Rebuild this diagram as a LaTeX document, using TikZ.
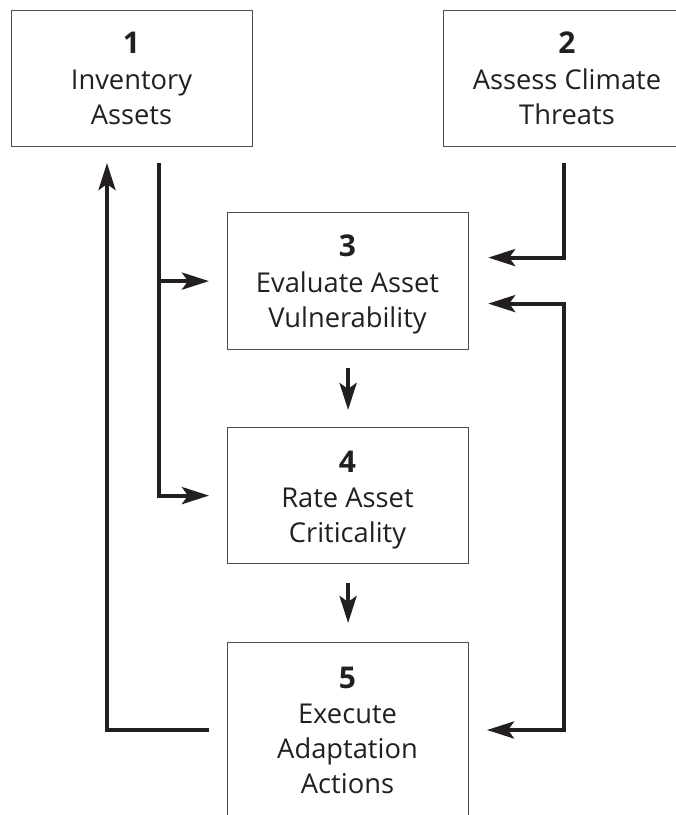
\documentclass[tikz,border=0pt]{standalone}
\usepackage{fontspec}
\setmainfont{Open Sans}
\usetikzlibrary{arrows.meta}
\definecolor{ink}{HTML}{231F20}
\newcommand{\boxlines}[1]{\fontsize{27.3}{35}\selectfont\begin{tabular}[t]{@{}c@{}}#1\end{tabular}}
\begin{document}
\begin{tikzpicture}[x=1pt,y=-1pt,
  box/.style={draw=ink!80, line width=1.2pt, minimum width=241pt, inner sep=0pt, anchor=north west},
  num/.style={font=\fontsize{30}{36}\selectfont\bfseries, text=ink, inner sep=0pt, anchor=base},
  lbl/.style={text=ink, inner sep=0pt, anchor=base},
  conn/.style={draw=ink, line width=4pt, -{Stealth[length=27pt,width=17pt,inset=6pt]}},
  conn2/.style={draw=ink, line width=4pt, {Stealth[length=27pt,width=17pt,inset=6pt]}-{Stealth[length=27pt,width=17pt,inset=6pt]}}]
\clip (0,0) rectangle (676,815);
% boxes
\node[box, minimum height=136pt] (b1) at (11,10) {};
\node[box, minimum height=136pt, minimum width=246pt] (b2) at (443,10) {};
\node[box, minimum height=137pt] (b3) at (227,212) {};
\node[box, minimum height=136pt] (b4) at (227,427) {};
\node[box, minimum height=200pt] (b5) at (227,642) {};
% numbers
\node[num] (n1) at (131.5,53.5) {1};
\node[num] (n2) at (567,53.5) {2};
\node[num] (n3) at (347.5,256) {3};
\node[num] (n4) at (347.5,472) {4};
\node[num] (n5) at (347.5,688) {5};
% texts
\node[lbl] (t1) at (131.5,89) {\boxlines{Inventory\\Assets}};
\node[lbl] (t2) at (567,89) {\boxlines{Assess Climate\\Threats}};
\node[lbl] (t3) at (347.5,292) {\boxlines{Evaluate Asset\\Vulnerability}};
\node[lbl] (t4) at (347.5,507) {\boxlines{Rate Asset\\Criticality}};
\node[lbl] (t5) at (347.5,723) {\boxlines{Execute\\Adaptation\\Actions}};
% coordinates
\coordinate (lt) at (159,163);
\coordinate (rt) at (564,163);
\coordinate (lup) at (107,163);
\coordinate (l5) at (209,730);
\coordinate (c5) at (564,730);
\coordinate (r5) at (487,730);
% connectors
\draw[conn] (lt) |- ([xshift=-18pt]b4.west);
\draw[conn] (lt |- b3.west) -- ([xshift=-18pt]b3.west);
\draw[conn] (rt) |- ([xshift=19pt,yshift=23.5pt]b3.east);
\draw[conn2] ([xshift=19pt,yshift=-22.5pt]b3.east) -| (c5) -- (r5);
\draw[conn] (l5) -| (lup);
\draw[conn] ([yshift=-18pt]b3.south) -- ([yshift=17pt]b4.north);
\draw[conn] ([yshift=-19pt]b4.south) -- ([yshift=19pt]b5.north);
\end{tikzpicture}
\end{document}
